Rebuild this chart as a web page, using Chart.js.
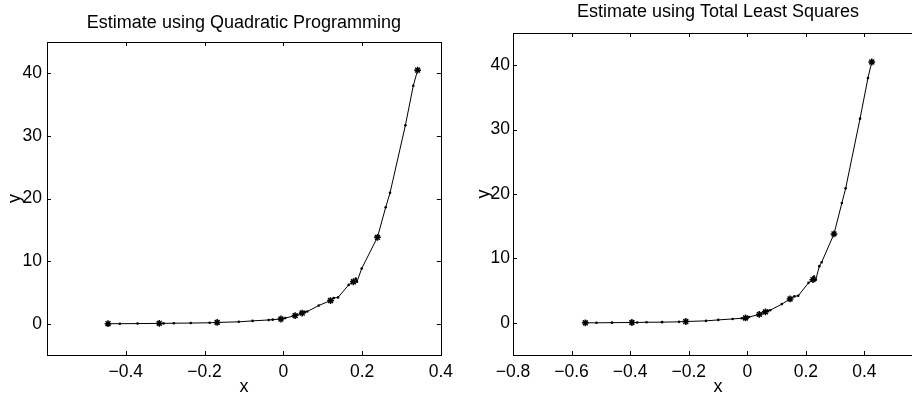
<!DOCTYPE html>
<html><head><meta charset="utf-8">
<script src="https://cdn.jsdelivr.net/npm/chart.js@4/dist/chart.umd.min.js"></script>
<style>
html,body{margin:0;padding:0;width:912px;height:398px;overflow:hidden;background:#fff;}
#c1{position:absolute;left:0;top:0;}
#c2{position:absolute;left:460px;top:0;}
</style></head><body>
<canvas id="c1" width="460" height="398"></canvas>
<canvas id="c2" width="480" height="398"></canvas>
<script>
// ---- Data: Quadratic Programming estimate ----
const qpX = [-0.445, -0.415, -0.370, -0.315, -0.304, -0.278, -0.235, -0.187, -0.168, -0.113, -0.078, -0.037, -0.027, -0.006, 0.005, 0.030, 0.044, 0.048, 0.055, 0.061, 0.090, 0.120, 0.128, 0.139, 0.166, 0.178, 0.184, 0.187, 0.199, 0.239, 0.260, 0.271, 0.310, 0.330, 0.341];
const qpY = [0.0, 0.0, 0.02, 0.05, 0.05, 0.08, 0.1, 0.15, 0.2, 0.3, 0.45, 0.6, 0.65, 0.75, 0.9, 1.3, 1.6, 1.7, 1.85, 1.95, 2.9, 3.7, 4.1, 4.2, 6.2, 6.7, 7.2, 6.7, 8.8, 13.8, 18.6, 20.9, 31.7, 38.0, 40.5];
const qpStarX = [-0.445, -0.315, -0.168, -0.006, 0.030, 0.048, 0.120, 0.178, 0.239, 0.341];
const qpStarY = [0.0, 0.05, 0.2, 0.75, 1.3, 1.7, 3.7, 6.7, 13.8, 40.5];

// ---- Data: Total Least Squares estimate ----
const tlsX = [-0.553, -0.515, -0.462, -0.394, -0.376, -0.344, -0.291, -0.233, -0.210, -0.141, -0.099, -0.050, -0.019, -0.006, 0.006, 0.041, 0.057, 0.062, 0.070, 0.078, 0.118, 0.146, 0.161, 0.174, 0.209, 0.224, 0.228, 0.234, 0.246, 0.254, 0.296, 0.323, 0.336, 0.385, 0.412, 0.425];
const tlsY = [0.0, 0.0, 0.02, 0.05, 0.05, 0.08, 0.1, 0.15, 0.2, 0.3, 0.45, 0.6, 0.7, 0.75, 0.9, 1.3, 1.6, 1.7, 1.85, 1.95, 2.9, 3.7, 4.1, 4.2, 6.2, 6.7, 7.2, 6.7, 8.8, 9.4, 13.8, 18.6, 20.9, 31.7, 38.0, 40.5];
const tlsStarX = [-0.553, -0.394, -0.210, -0.006, 0.041, 0.062, 0.146, 0.224, 0.296, 0.425];
const tlsStarY = [0.0, 0.05, 0.2, 0.75, 1.3, 1.7, 3.7, 6.7, 13.8, 40.5];

// ---- Ticks / labels ----
const qpXTicks = [-0.4, -0.2, 0, 0.2, 0.4];
const tlsXTicks = [-0.8, -0.6, -0.4, -0.2, 0, 0.2, 0.4];
const yTicks = [0, 10, 20, 30, 40];
const titles = ['Estimate using Quadratic Programming', 'Estimate using Total Least Squares'];
const xLabel = 'x';
const yLabel = 'y';

const FONT = "'Liberation Sans', Arial, Helvetica, sans-serif";
Chart.defaults.font.family = FONT;
Chart.defaults.color = '#000';

function fmtX(v){ if (Math.abs(v) < 1e-9) return '0'; return (v < 0 ? '\u2212' : '') + Math.abs(v).toFixed(1); }
function pts(xs, ys){ return xs.map((x,i)=>({x:x, y:ys[i]})); }

const boxPlugin = {
  id: 'box',
  afterDatasetsDraw(chart){
    const {ctx, chartArea:a} = chart; const sx = chart.scales.x, sy = chart.scales.y;
    ctx.save(); ctx.strokeStyle = '#000'; ctx.lineWidth = 1;
    ctx.strokeRect(Math.round(a.left)+0.5, Math.round(a.top)+0.5, Math.round(a.right-a.left), Math.round(a.bottom-a.top));
    const L = 4; ctx.beginPath();
    sx.ticks.forEach(t=>{ const p = Math.round(sx.getPixelForValue(t.value))+0.5;
      ctx.moveTo(p, a.top); ctx.lineTo(p, a.top+L); ctx.moveTo(p, a.bottom); ctx.lineTo(p, a.bottom-L); });
    sy.ticks.forEach(t=>{ const p = Math.round(sy.getPixelForValue(t.value))+0.5;
      ctx.moveTo(a.left, p); ctx.lineTo(a.left+L, p); ctx.moveTo(a.right, p); ctx.lineTo(a.right-L, p); });
    ctx.stroke(); ctx.restore();
  }
};

function makeChart(id, cfg){
  return new Chart(document.getElementById(id), {
    type: 'scatter',
    data: { datasets: [
      { data: pts(cfg.lx, cfg.ly), showLine: true, borderColor: '#000', borderWidth: 1, backgroundColor: '#000',
        pointStyle: 'circle', pointRadius: 1.3, pointBorderWidth: 0, tension: 0 },
      { data: pts(cfg.sx, cfg.sy), showLine: false, borderColor: '#000', backgroundColor: '#000',
        pointStyle: 'star', pointRadius: 3.4, pointBorderWidth: 1.5 }
    ]},
    options: {
      responsive: false, animation: false, devicePixelRatio: 1,
      layout: { padding: { left: cfg.padLeft, right: cfg.padRight, top: 0, bottom: 0 } },
      plugins: {
        legend: { display: false }, tooltip: { enabled: false },
        title: { display: true, text: cfg.title, color: '#000', fullSize: false,
          font: { size: 18, weight: 'normal', lineHeight: 1.2 },
          padding: { top: cfg.titleTop, bottom: cfg.titleBottom } }
      },
      scales: {
        x: { type: 'linear', min: cfg.xmin, max: cfg.xmax,
          afterBuildTicks: s => { s.ticks = cfg.xTicks.map(v=>({value:v})); },
          afterFit: s => { s.height = cfg.xAxisH; },
          ticks: { callback: v => fmtX(v), padding: 7, font: { size: 17.5 }, color: '#000', maxRotation: 0, autoSkip: false },
          grid: { display: false, drawTicks: false }, border: { display: false },
          title: { display: true, text: xLabel, font: { size: 18 }, color: '#000', padding: { top: 0, bottom: 0 } } },
        y: { type: 'linear', min: -5, max: 45,
          afterBuildTicks: s => { s.ticks = yTicks.map(v=>({value:v})); },
          afterFit: s => { s.width = cfg.yAxisW; },
          ticks: { callback: v => String(v), padding: cfg.yPad, font: { size: 17.5 }, color: '#000' },
          grid: { display: false, drawTicks: false }, border: { display: false },
          title: { display: true, text: yLabel, font: { size: 18 }, color: '#000', padding: { top: 4, bottom: 0 } } }
      }
    },
    plugins: [boxPlugin]
  });
}

makeChart('c1', { lx: qpX, ly: qpY, sx: qpStarX, sy: qpStarY, title: titles[0],
  xmin: -0.6, xmax: 0.4, xTicks: qpXTicks, padLeft: 0, padRight: 17, yAxisW: 47, yPad: 5,
  xAxisH: 43, titleTop: 12.7, titleBottom: 7.7 });
makeChart('c2', { lx: tlsX, ly: tlsY, sx: tlsStarX, sy: tlsStarY, title: titles[1],
  xmin: -0.8, xmax: 0.6, xTicks: tlsXTicks, padLeft: 9, padRight: 17, yAxisW: 44, yPad: 3,
  xAxisH: 43, titleTop: 1.7, titleBottom: 9.7 });
</script>
</body></html>
